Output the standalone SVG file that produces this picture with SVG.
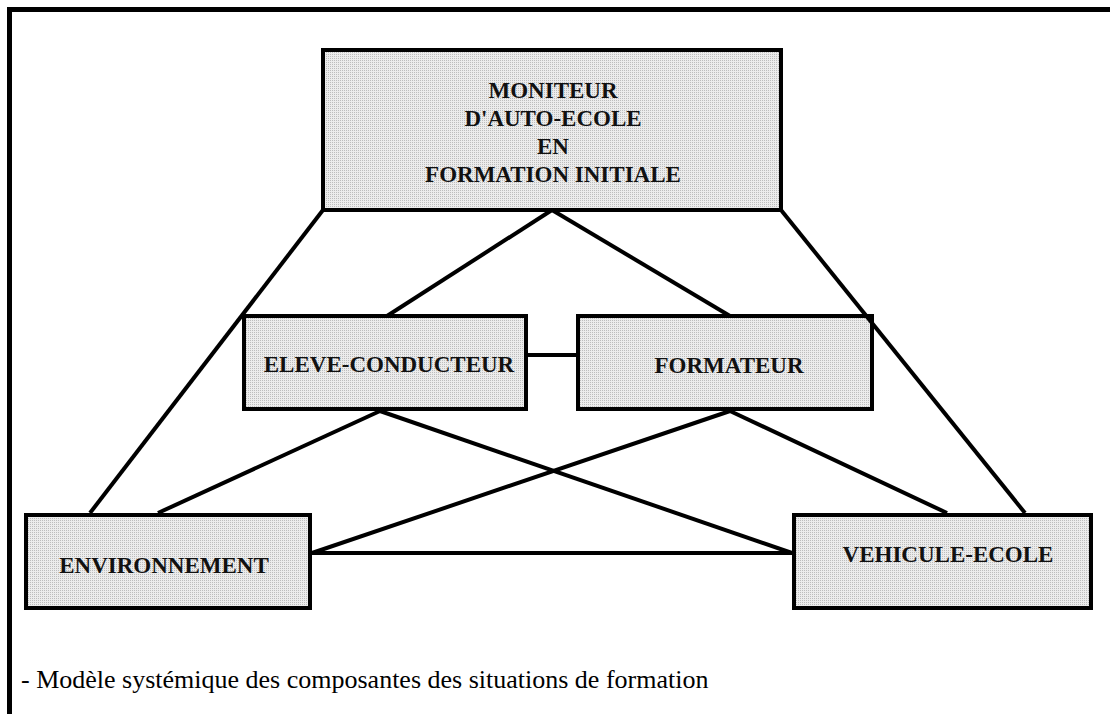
<svg xmlns="http://www.w3.org/2000/svg" width="1110" height="714" viewBox="0 0 1110 714">
<style>
.box{fill:url(#dots);stroke:#000;stroke-width:4}
.lbl{font-family:"Liberation Serif","Times New Roman",serif;font-weight:bold;font-size:23px;fill:#111;text-anchor:middle}
.con line{stroke:#000;stroke-width:4;stroke-linecap:butt}
.cap{font-family:"Liberation Serif","Times New Roman",serif;font-size:26px;fill:#000}
</style>
<defs>
<pattern id="dots" width="2" height="2" patternUnits="userSpaceOnUse">
<rect width="2" height="2" fill="#ececec"/>
<rect width="1" height="1" fill="#bdbdbd"/>
</pattern>
</defs>
<rect width="1110" height="714" fill="#fff"/>
<path d="M9.5 714 V9.5 H1110" fill="none" stroke="#000" stroke-width="5"/>
<g id="moniteur">
<rect class="box" x="323" y="50" width="458" height="160"/>
<text class="lbl" x="553" y="98">MONITEUR</text>
<text class="lbl" x="553" y="126">D'AUTO-ECOLE</text>
<text class="lbl" x="553" y="154">EN</text>
<text class="lbl" x="553" y="182">FORMATION INITIALE</text>
</g>
<g id="eleve">
<rect class="box" x="244" y="316" width="282" height="93"/>
<text class="lbl" x="389" y="372">ELEVE-CONDUCTEUR</text>
</g>
<g id="formateur">
<rect class="box" x="578" y="316" width="294" height="93"/>
<text class="lbl" x="729" y="373">FORMATEUR</text>
</g>
<g id="environnement">
<rect class="box" x="26" y="515" width="284" height="93"/>
<text class="lbl" x="164" y="573">ENVIRONNEMENT</text>
</g>
<g id="vehicule">
<rect class="box" x="794" y="515" width="297" height="93"/>
<text class="lbl" x="948" y="562">VEHICULE-ECOLE</text>
</g>
<g id="connectors" class="con">
<line x1="323" y1="210" x2="90" y2="513"/>
<line x1="781" y1="210" x2="1025" y2="513"/>
<line x1="552" y1="210" x2="387" y2="316"/>
<line x1="552" y1="210" x2="730" y2="316"/>
<line x1="526" y1="355" x2="578" y2="355"/>
<line x1="380" y1="411" x2="158" y2="513"/>
<line x1="380" y1="411" x2="792" y2="553"/>
<line x1="730" y1="411" x2="312" y2="553"/>
<line x1="730" y1="411" x2="947" y2="513"/>
<line x1="312" y1="553" x2="792" y2="553"/>
</g>
<text class="cap" x="21" y="688">- Modèle systémique des composantes des situations de formation</text>
</svg>
